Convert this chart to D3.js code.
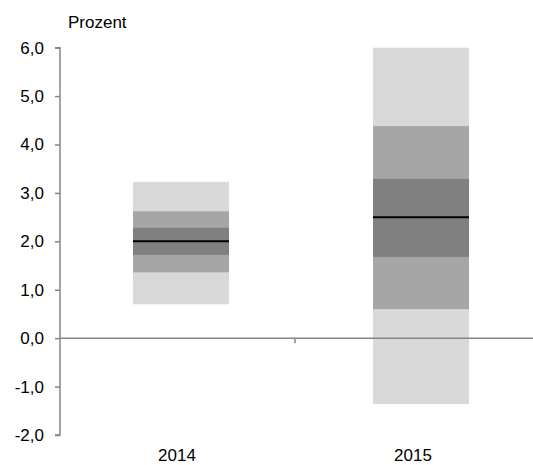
<!DOCTYPE html>
<html><head><meta charset="utf-8">
<script src="https://cdn.jsdelivr.net/npm/d3@7"></script>
<style>body{margin:0;background:#fff}svg{display:block}text{font-family:"Liberation Sans",Arial,sans-serif;fill:#000}</style>
</head><body>
<script>
const categories = ["2014", "2015"];
// band boundaries per year: outer (light), middle (medium), inner (dark), central line
const outerLow  = [0.70, -1.36];
const outerHigh = [3.23, 6.00];
const midLow    = [1.36, 0.60];
const midHigh   = [2.62, 4.38];
const innerLow  = [1.72, 1.68];
const innerHigh = [2.28, 3.29];
const central   = [2.00, 2.50];
const yTicks = [-2, -1, 0, 1, 2, 3, 4, 5, 6];
const yLabel = "Prozent";

const W = 533, H = 465;
const svg = d3.select("body").append("svg").attr("width", W).attr("height", H);

const y = d3.scaleLinear().domain([-2, 6]).range([435, 47.7]);
const x = d3.scaleBand().domain(categories).range([59, 531]);      // axis / labels
const xb = d3.scaleBand().domain(categories).range([61, 541]).paddingInner(0.6).paddingOuter(0.3); // bars
const barW = xb.bandwidth();

const colors = {outer: "#d9d9d9", mid: "#a6a6a6", inner: "#808080"};
const layers = [
  {lo: outerLow, hi: outerHigh, c: colors.outer},
  {lo: midLow, hi: midHigh, c: colors.mid},
  {lo: innerLow, hi: innerHigh, c: colors.inner}
];
const bx = d => xb(d) + xb.bandwidth()/2 - 48;
const g = svg.append("g");
layers.forEach(L => {
  g.selectAll(null).data(categories).enter().append("rect")
    .attr("x", bx)
    .attr("width", 96)
    .attr("y", (d,i) => y(L.hi[i]))
    .attr("height", (d,i) => y(L.lo[i]) - y(L.hi[i]))
    .attr("fill", L.c);
});
g.selectAll(null).data(categories).enter().append("line")
  .attr("x1", bx)
  .attr("x2", d => bx(d) + 96)
  .attr("y1", (d,i) => y(central[i])).attr("y2", (d,i) => y(central[i]))
  .attr("stroke", "#000").attr("stroke-width", 2);

// y axis
const yAxis = d3.axisLeft(y).tickValues(yTicks).tickSize(5).tickPadding(11)
  .tickFormat(d => d3.format(".1f")(d).replace(".", ",").replace("\u2212", "-"));
const ya = svg.append("g").attr("transform", "translate(60,0)").call(yAxis);
ya.select(".domain").attr("stroke", "#868686").attr("stroke-width", 1.5).attr("d", `M-5,${y(6)}H0V${y(-2)}H-5`);
ya.selectAll(".tick line").attr("stroke", "#868686").attr("stroke-width", 1.5);
ya.selectAll(".tick text").attr("font-size", 17).attr("font-family", "Liberation Sans, Arial, sans-serif").attr("fill", "#000");

// x axis at zero
const xa = svg.append("g");
xa.append("line").attr("x1", 60).attr("x2", 533).attr("y1", y(0)).attr("y2", y(0))
  .attr("stroke", "#868686").attr("stroke-width", 1.5);
const bounds = [x(categories[1])];
xa.selectAll(null).data(bounds).enter().append("line")
  .attr("x1", d => d).attr("x2", d => d).attr("y1", y(0)).attr("y2", y(0) + 5)
  .attr("stroke", "#868686").attr("stroke-width", 1.5);
xa.selectAll(null).data(categories).enter().append("text")
  .attr("x", d => x(d) + x.bandwidth()/2).attr("y", 461)
  .attr("text-anchor", "middle").attr("font-size", 17).text(d => d);

svg.append("text").attr("x", 68).attr("y", 28).attr("font-size", 17).text(yLabel);
</script>
</body></html>
